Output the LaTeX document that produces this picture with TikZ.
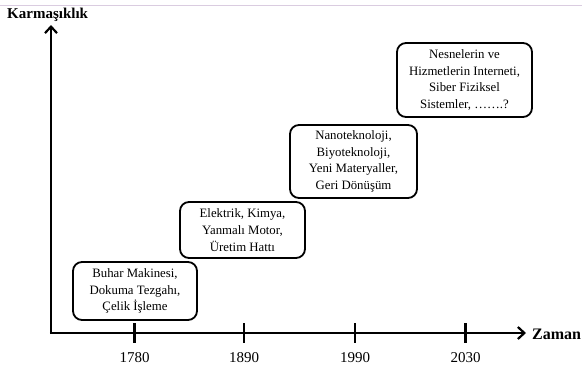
\documentclass[tikz,border=0pt]{standalone}
\usepackage{fontspec}
\setmainfont{Liberation Serif}
\usetikzlibrary{arrows.meta}
\definecolor{topline}{RGB}{218,204,224}
\begin{document}
\begin{tikzpicture}[x=1pt,y=-1pt,
  axis/.style={line width=2.4pt,-{Straight Barb[length=6.5pt,width=12pt,line width=2.2pt]}},
  tickmark/.style={line width=2.8pt},
  era/.style={draw,line width=1.8pt,rounded corners=9pt,align=center,inner sep=0pt,
    font=\fontsize{12.8}{16.8}\selectfont},
  axlabel/.style={font=\fontsize{15}{18}\selectfont\bfseries,inner sep=0pt},
  year/.style={font=\fontsize{15}{17}\selectfont,inner sep=0pt,anchor=base}]
\useasboundingbox (0,0) rectangle (582,365);
\draw[topline,line width=1pt] (0,5) -- (582,5);
\coordinate (ytip) at (51,25);
\coordinate (xtip) at (526,333);
\draw[axis] (51,334.2) -- (ytip);
\draw[axis] (49.8,333) -- (xtip);
\node[axlabel,anchor=base west] (ky) at (7,18) {Karmaşıklık};
\node[axlabel,font=\fontsize{16}{18}\selectfont\bfseries,anchor=west] (kx) at (532,334) {Zaman};
\foreach \x/\y/\n in {134.7/1780/t1,244/1890/t2,355/1990/t3,465.5/2030/t4}{
  \coordinate (\n a) at (\x,323);
  \coordinate (\n b) at (\x,343);
  \draw[tickmark] (\n a) -- (\n b);
  \node[year] (\n l) at (\x,362.5) {\y};
}
\node[era,minimum width=124pt,minimum height=58pt] (b1) at (135,291)
  {Buhar Makinesi,\\Dokuma Tezgahı,\\Çelik İşleme};
\node[era,minimum width=125pt,minimum height=56pt] (b2) at (242.5,230)
  {Elektrik, Kimya,\\Yanmalı Motor,\\Üretim Hattı};
\node[era,minimum width=127pt,minimum height=73pt] (b3) at (353.5,161.5)
  {Nanoteknoloji,\\Biyoteknoloji,\\Yeni Materyaller,\\Geri Dönüşüm};
\node[era,minimum width=135pt,minimum height=74pt] (b4) at (464.5,80)
  {Nesnelerin ve\\Hizmetlerin Interneti,\\Siber Fiziksel\\Sistemler, …….?};
\end{tikzpicture}
\end{document}
